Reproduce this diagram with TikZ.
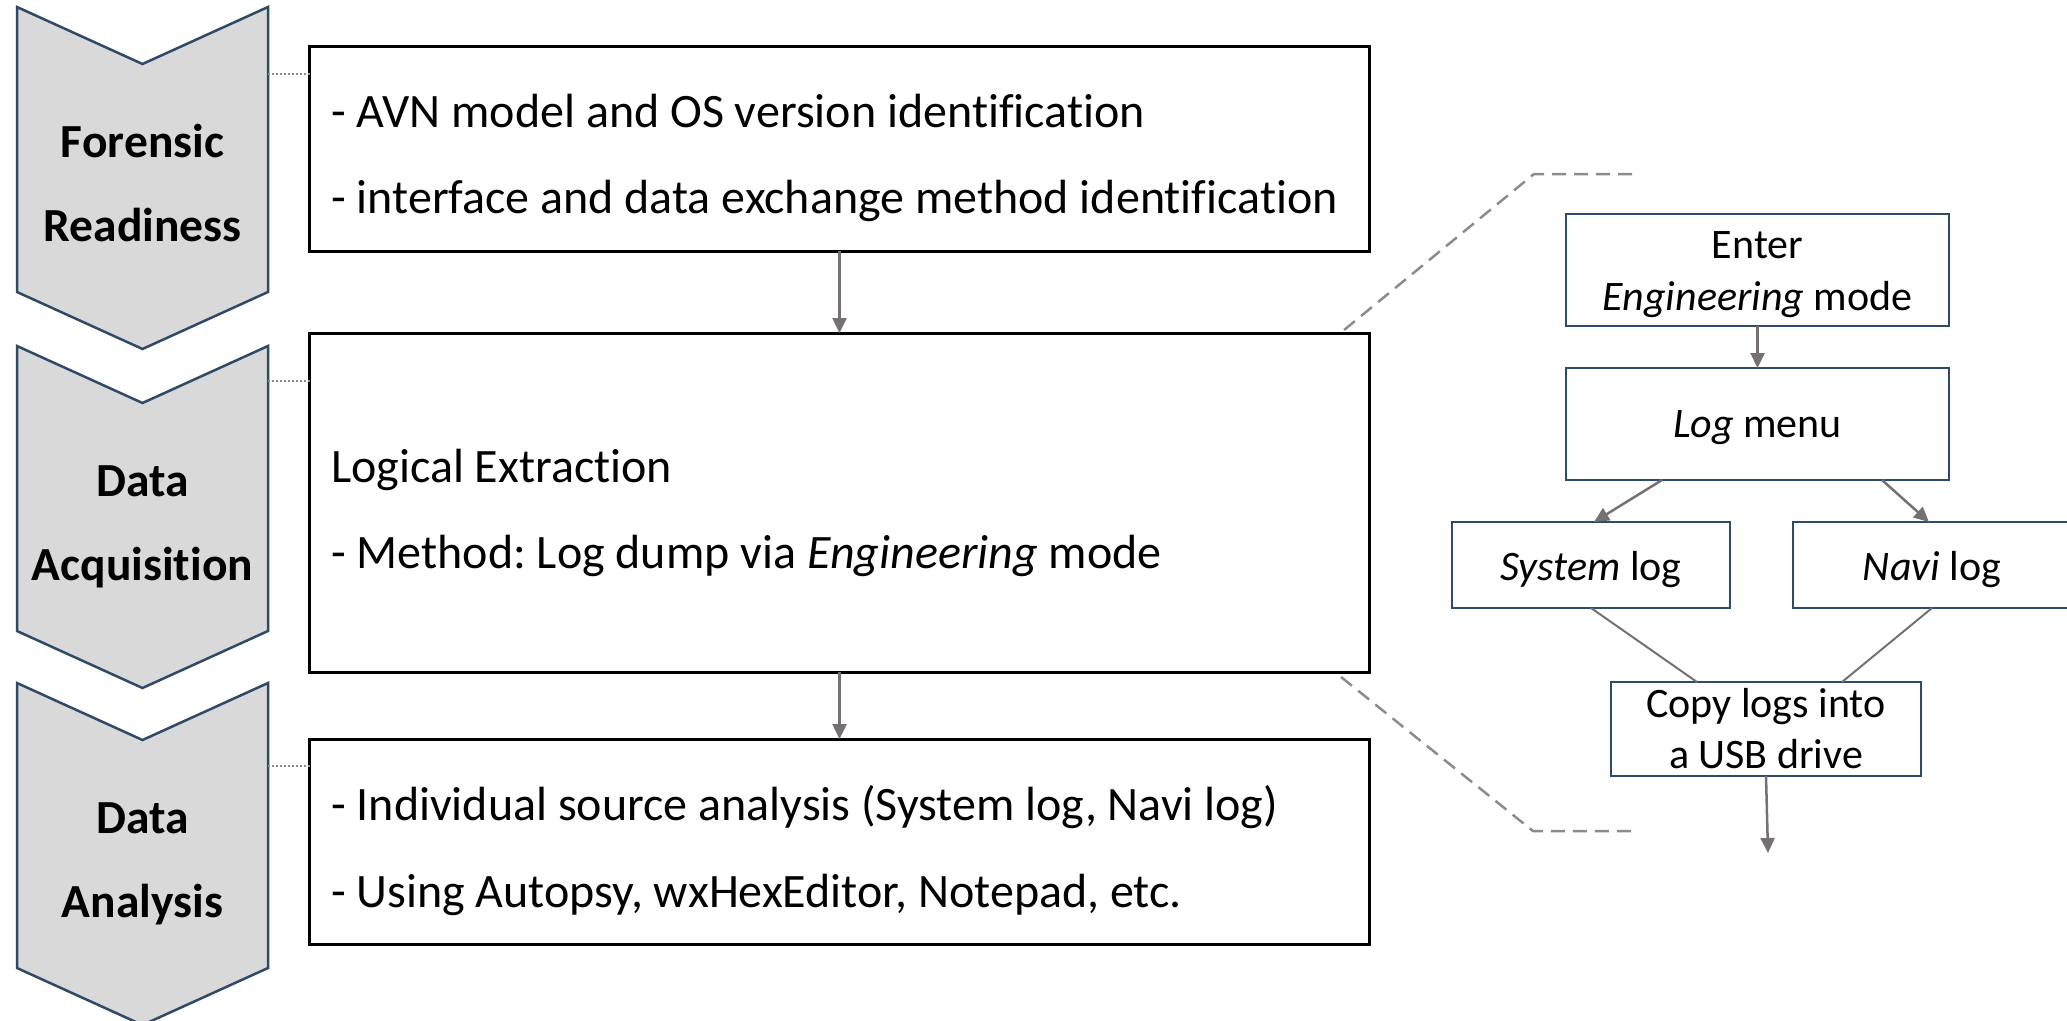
\documentclass[tikz,border=0pt]{standalone}
\usepackage{fontspec}
\setmainfont{Carlito}[Ligatures=NoCommon]
\usetikzlibrary{arrows.meta,calc}
\definecolor{chevfill}{HTML}{D9D9D9}
\definecolor{chevline}{HTML}{2E4A66}
\definecolor{navyline}{HTML}{2F4B6B}
\definecolor{arrgray}{HTML}{767171}
\definecolor{dashgray}{HTML}{8C8C8C}
\frenchspacing
\begin{document}
\begin{tikzpicture}[x=1bp,y=-1bp,
  chev/.style={fill=chevfill,draw=chevline,line width=2.5bp,line join=miter},
  chevtxt/.style={anchor=base,inner sep=0pt,font=\fontsize{47.5bp}{56bp}\selectfont\bfseries},
  lbox/.style={draw=black,line width=3bp,minimum width=1059bp,inner sep=0pt,outer sep=0pt},
  ltxt/.style={anchor=base west,inner sep=0pt,font=\fontsize{48bp}{57bp}\selectfont},
  rbox/.style={draw=navyline,line width=2.5bp,inner sep=0pt,outer sep=0pt},
  rtxt/.style={anchor=base,inner sep=0pt,font=\fontsize{42bp}{50bp}\selectfont},
  conn/.style={draw=arrgray,line width=2.5bp,-{Triangle[length=15bp,width=14bp]}},
  plain/.style={draw=arrgray,line width=2bp},
  zoomline/.style={draw=dashgray,line width=2.5bp,dash pattern=on 14bp off 8bp},
  dotline/.style={draw=dashgray,line width=2bp,dash pattern=on 2bp off 2bp}]
\useasboundingbox (0,0) rectangle (2067,1021);

% chevrons
\foreach \t/\n in {7/1,346/2,683/3}{
  \draw[chev] (17,\t) -- (142.5,\t+57) -- (268,\t) -- (268,\t+285) -- (142.5,\t+342) -- (17,\t+285) -- cycle;
}
\node[chevtxt] (c1a) at (142.5,157) {Forensic};
\node[chevtxt] (c1b) at (142.5,241) {Readiness};
\node[chevtxt] (c2a) at (142.5,496) {Data};
\node[chevtxt] (c2b) at (142.5,580) {Acquisition};
\node[chevtxt] (c3a) at (142.5,833) {Data};
\node[chevtxt] (c3b) at (142.5,917) {Analysis};

% left boxes
\node[lbox,minimum height=205bp] (box1) at (839.5,148.5) {};
\node[lbox,minimum height=339bp] (box2) at (839.5,502.5) {};
\node[lbox,minimum height=205bp] (box3) at (839.5,841.5) {};

\node[ltxt] (t1a) at (331,127) {- AVN model and OS version identification};
\node[ltxt] (t1b) at (331,213) {- interface and data exchange method identification};
\node[ltxt] (t2a) at (331,482) {Logical Extraction};
\node[ltxt] (t2b) at (331,568) {- Method: Log dump via \textit{Engineering} mode};
\node[ltxt] (t3a) at (331,820) {- Individual source analysis (System log, Navi log)};
\node[ltxt] (t3b) at (331,907) {- Using Autopsy, wxHexEditor, Notepad, etc.};

% dotted links
\coordinate (d1) at (268,74);
\coordinate (d2) at (268,381);
\coordinate (d3) at (268,766);
\draw[dotline] (d1) -- (d1 -| box1.west);
\draw[dotline] (d2) -- (d2 -| box2.west);
\draw[dotline] (d3) -- (d3 -| box3.west);

\draw[conn] (box1.south) -- (box2.north);
\draw[conn] (box2.south) -- (box3.north);

% right flowchart
\node[rbox,minimum width=383bp,minimum height=112bp] (enter) at (1757.5,270) {};
\node[rbox,minimum width=383bp,minimum height=112bp] (logm) at (1757.5,424) {};
\node[rbox,minimum width=278bp,minimum height=86bp] (sys) at (1591,565) {};
\node[rbox,minimum width=278bp,minimum height=86bp] (navi) at (1932,565) {};
\node[rbox,minimum width=310bp,minimum height=94bp] (copy) at (1766,729) {};

\node[rtxt] (te1) at (1757.5,258) {Enter};
\node[rtxt] (te2) at (1757.5,310) {\textit{Engineering} mode};
\node[rtxt] (tl) at (1757.5,437) {\textit{Log} menu};
\node[rtxt] (ts) at (1591,580) {\textit{System} log};
\node[rtxt] (tn) at (1932,580) {\textit{Navi} log};
\node[rtxt] (tc1) at (1766,717) {Copy logs into};
\node[rtxt] (tc2) at (1766,768) {a USB drive};

\draw[conn] (enter.south) -- (logm.north);
\draw[conn] ($(logm.south)+(-95.5,0)$) -- ($(sys.north)+(3,0)$);
\draw[conn] ($(logm.south)+(124.5,0)$) -- ($(navi.north)+(-3,0)$);
\draw[plain] (sys.south) -- ($(copy.north)+(-69,0)$);
\draw[plain] (navi.south) -- ($(copy.north)+(76,0)$);
\coordinate (outend) at (1768,853);
\draw[conn] (copy.south) -- (outend);

% zoom indicator lines
\coordinate (zt1) at (1534,174);
\coordinate (zt2) at (1633,174);
\coordinate (zb1) at (1533,831);
\coordinate (zb2) at (1633,831);
\draw[zoomline] ($(box2.north east)+(-25,-3)$) -- (zt1) -- (zt2);
\draw[zoomline] ($(box2.south east)+(-28,5)$) -- (zb1) -- (zb2);
\end{tikzpicture}
\end{document}
